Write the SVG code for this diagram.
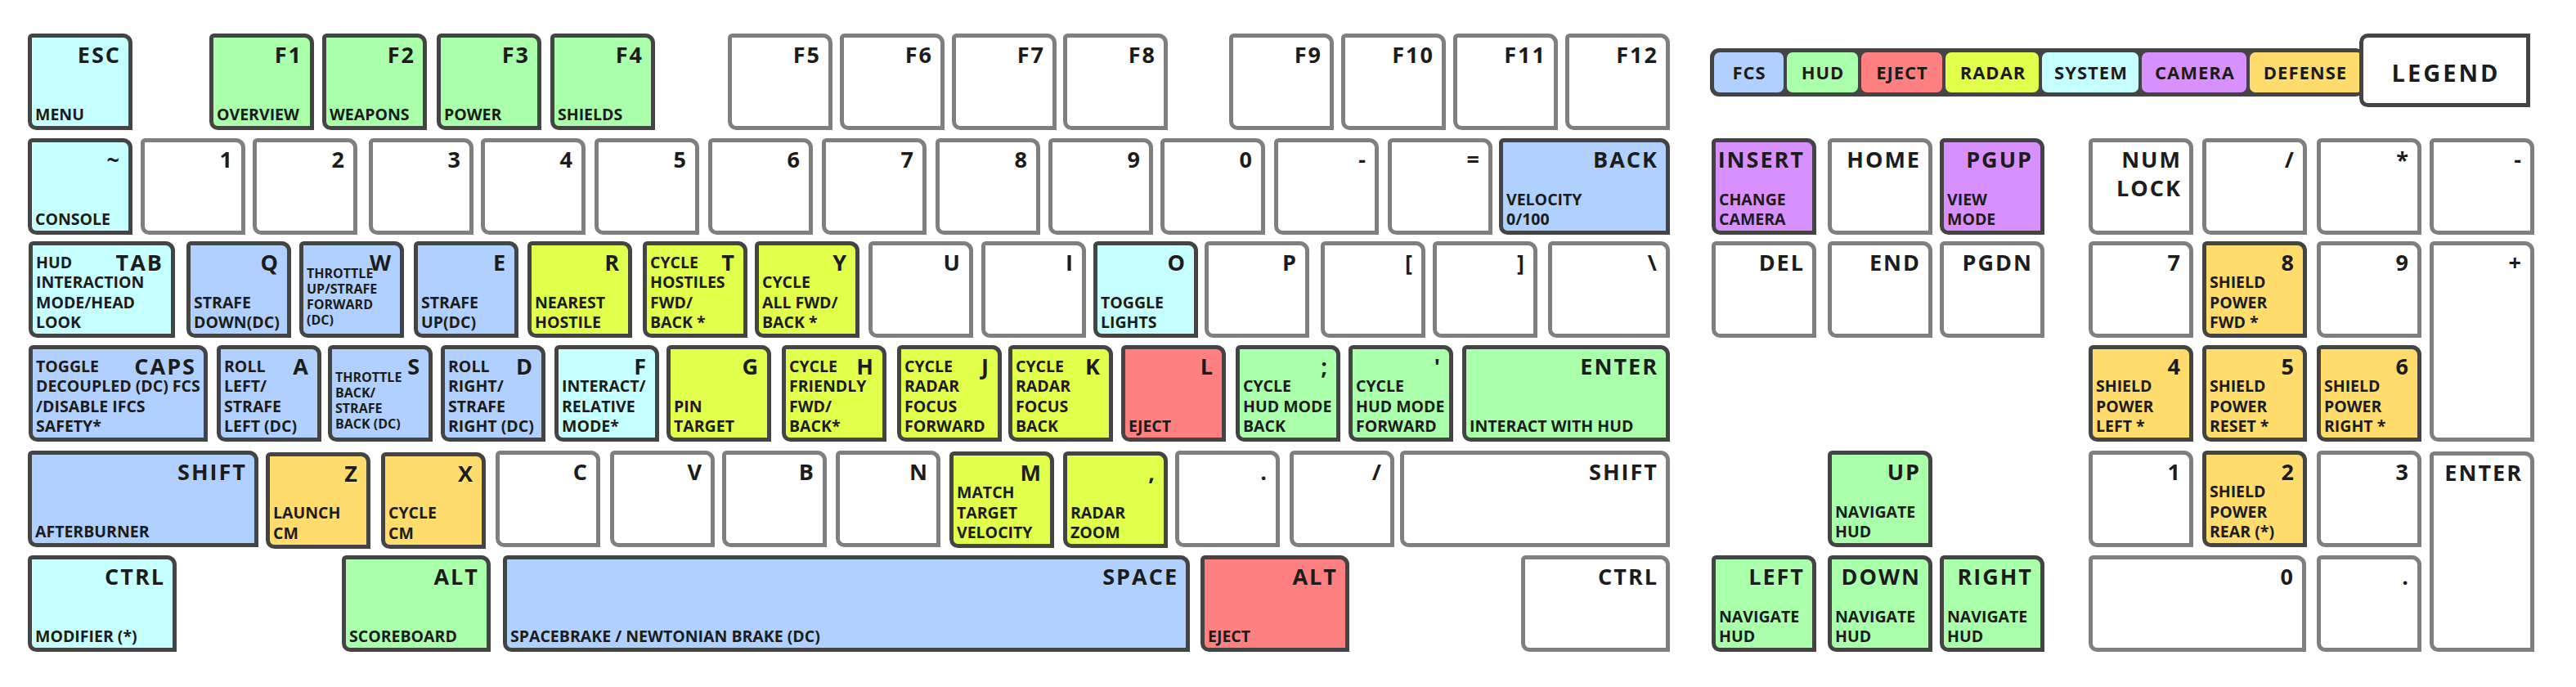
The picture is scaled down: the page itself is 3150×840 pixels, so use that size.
<svg xmlns="http://www.w3.org/2000/svg" xmlns:xlink="http://www.w3.org/1999/xlink" width="3150" height="840" viewBox="0 0 3150 840">
<style>
.w{fill:#fff;stroke:#7f7f7f;stroke-width:5}
.fcs,.hud,.ej,.rad,.sys,.cam,.def{stroke:#444;stroke-width:5}
.fcs{fill:#b0d0ff}.hud{fill:#aaffaa}.ej{fill:#ff8080}.rad{fill:#e2ff4c}.sys{fill:#c6ffff}.cam{fill:#d890ff}.def{fill:#ffdc6c}
text{font-family:"Open Sans","DejaVu Sans",sans-serif;font-weight:700;fill:#1c1c1c}
.l{font-size:27px;letter-spacing:2px;text-anchor:end}
.d{font-size:19.5px}
.s{font-size:16px}
.g{font-size:22px;letter-spacing:1px;text-anchor:middle}
.t{font-size:29px;letter-spacing:3px;text-anchor:middle}
</style>
<defs>
<path id="k" d="M5.5,2.5H116.5A9,9 0 0 1 125.5,11.5V115.5H10.5A8,8 0 0 1 2.5,107.5V5.5A3,3 0 0 1 5.5,2.5Z"/>
<path id="k149" d="M5.5,2.5H137.5A9,9 0 0 1 146.5,11.5V115.5H10.5A8,8 0 0 1 2.5,107.5V5.5A3,3 0 0 1 5.5,2.5Z"/>
<path id="k179" d="M5.5,2.5H167.5A9,9 0 0 1 176.5,11.5V115.5H10.5A8,8 0 0 1 2.5,107.5V5.5A3,3 0 0 1 5.5,2.5Z"/>
<path id="k182" d="M5.5,2.5H170.5A9,9 0 0 1 179.5,11.5V115.5H10.5A8,8 0 0 1 2.5,107.5V5.5A3,3 0 0 1 5.5,2.5Z"/>
<path id="k209" d="M5.5,2.5H197.5A9,9 0 0 1 206.5,11.5V115.5H10.5A8,8 0 0 1 2.5,107.5V5.5A3,3 0 0 1 5.5,2.5Z"/>
<path id="k219" d="M5.5,2.5H207.5A9,9 0 0 1 216.5,11.5V115.5H10.5A8,8 0 0 1 2.5,107.5V5.5A3,3 0 0 1 5.5,2.5Z"/>
<path id="k254" d="M5.5,2.5H242.5A9,9 0 0 1 251.5,11.5V115.5H10.5A8,8 0 0 1 2.5,107.5V5.5A3,3 0 0 1 5.5,2.5Z"/>
<path id="k266" d="M5.5,2.5H254.5A9,9 0 0 1 263.5,11.5V115.5H10.5A8,8 0 0 1 2.5,107.5V5.5A3,3 0 0 1 5.5,2.5Z"/>
<path id="k282" d="M5.5,2.5H270.5A9,9 0 0 1 279.5,11.5V115.5H10.5A8,8 0 0 1 2.5,107.5V5.5A3,3 0 0 1 5.5,2.5Z"/>
<path id="k330" d="M5.5,2.5H318.5A9,9 0 0 1 327.5,11.5V115.5H10.5A8,8 0 0 1 2.5,107.5V5.5A3,3 0 0 1 5.5,2.5Z"/>
<path id="k840" d="M5.5,2.5H828.5A9,9 0 0 1 837.5,11.5V115.5H10.5A8,8 0 0 1 2.5,107.5V5.5A3,3 0 0 1 5.5,2.5Z"/>
<path id="kt" d="M5.5,2.5H116.5A9,9 0 0 1 125.5,11.5V242.5H10.5A8,8 0 0 1 2.5,234.5V5.5A3,3 0 0 1 5.5,2.5Z"/>
</defs>
<rect width="3150" height="840" fill="#fff"/>

<g id="legend">
<rect x="2091" y="59" width="800" height="59" rx="11" fill="#444"/>
<rect x="2096" y="64" width="85" height="49" rx="7" fill="#b0d0ff"/>
<rect x="2185" y="64" width="87" height="49" rx="7" fill="#aaffaa"/>
<rect x="2276" y="64" width="99" height="49" rx="7" fill="#ff8080"/>
<rect x="2379" y="64" width="114" height="49" rx="7" fill="#e2ff4c"/>
<rect x="2497" y="64" width="118" height="49" rx="7" fill="#c6ffff"/>
<rect x="2619" y="64" width="128" height="49" rx="7" fill="#d890ff"/>
<rect x="2751" y="64" width="138" height="49" rx="7" fill="#ffdc6c"/>
<text class="g" x="2139" y="97">FCS</text>
<text class="g" x="2229" y="97">HUD</text>
<text class="g" x="2326" y="97">EJECT</text>
<text class="g" x="2437" y="97">RADAR</text>
<text class="g" x="2557" y="97">SYSTEM</text>
<text class="g" x="2684" y="97">CAMERA</text>
<text class="g" x="2819" y="97">DEFENSE</text>
<path d="M2895.5,43.5H3091.5V128.5H2895.5A8,8 0 0 1 2887.5,120.5V51.5A8,8 0 0 1 2895.5,43.5Z" fill="#fff" stroke="#444" stroke-width="5"/>
<text class="t" x="2991" y="100">LEGEND</text>
</g>

<!-- Row 0 -->
<g id="key-esc"><use href="#k" x="34" y="41" class="sys"/><text class="l" x="148" y="77">ESC</text><text class="d" x="43" y="147">MENU</text></g>
<g id="key-f1"><use href="#k" x="256" y="41" class="hud"/><text class="l" x="370" y="77">F1</text><text class="d" x="265" y="147">OVERVIEW</text></g>
<g id="key-f2"><use href="#k" x="394" y="41" class="hud"/><text class="l" x="508" y="77">F2</text><text class="d" x="403" y="147">WEAPONS</text></g>
<g id="key-f3"><use href="#k" x="534" y="41" class="hud"/><text class="l" x="648" y="77">F3</text><text class="d" x="543" y="147">POWER</text></g>
<g id="key-f4"><use href="#k" x="673" y="41" class="hud"/><text class="l" x="787" y="77">F4</text><text class="d" x="682" y="147">SHIELDS</text></g>
<g id="key-f5"><use href="#k" x="890" y="41" class="w"/><text class="l" x="1004" y="77">F5</text></g>
<g id="key-f6"><use href="#k" x="1027" y="41" class="w"/><text class="l" x="1141" y="77">F6</text></g>
<g id="key-f7"><use href="#k" x="1164" y="41" class="w"/><text class="l" x="1278" y="77">F7</text></g>
<g id="key-f8"><use href="#k" x="1300" y="41" class="w"/><text class="l" x="1414" y="77">F8</text></g>
<g id="key-f9"><use href="#k" x="1503" y="41" class="w"/><text class="l" x="1617" y="77">F9</text></g>
<g id="key-f10"><use href="#k" x="1640" y="41" class="w"/><text class="l" x="1754" y="77">F10</text></g>
<g id="key-f11"><use href="#k" x="1777" y="41" class="w"/><text class="l" x="1891" y="77">F11</text></g>
<g id="key-f12"><use href="#k" x="1914" y="41" class="w"/><text class="l" x="2028" y="77">F12</text></g>

<!-- Row 1 -->
<g id="key-tilde"><use href="#k" x="34" y="169" class="sys"/><text class="l" x="148" y="205">~</text><text class="d" x="43" y="275">CONSOLE</text></g>
<g id="key-1"><use href="#k" x="172" y="169" class="w"/><text class="l" x="286" y="205">1</text></g>
<g id="key-2"><use href="#k" x="309" y="169" class="w"/><text class="l" x="423" y="205">2</text></g>
<g id="key-3"><use href="#k" x="451" y="169" class="w"/><text class="l" x="565" y="205">3</text></g>
<g id="key-4"><use href="#k" x="588" y="169" class="w"/><text class="l" x="702" y="205">4</text></g>
<g id="key-5"><use href="#k" x="727" y="169" class="w"/><text class="l" x="841" y="205">5</text></g>
<g id="key-6"><use href="#k" x="866" y="169" class="w"/><text class="l" x="980" y="205">6</text></g>
<g id="key-7"><use href="#k" x="1005" y="169" class="w"/><text class="l" x="1119" y="205">7</text></g>
<g id="key-8"><use href="#k" x="1144" y="169" class="w"/><text class="l" x="1258" y="205">8</text></g>
<g id="key-9"><use href="#k" x="1282" y="169" class="w"/><text class="l" x="1396" y="205">9</text></g>
<g id="key-0"><use href="#k" x="1419" y="169" class="w"/><text class="l" x="1533" y="205">0</text></g>
<g id="key-minus"><use href="#k" x="1558" y="169" class="w"/><text class="l" x="1672" y="205">-</text></g>
<g id="key-equals"><use href="#k" x="1697" y="169" class="w"/><text class="l" x="1811" y="205">=</text></g>
<g id="key-back"><use href="#k209" x="1833" y="169" class="fcs"/><text class="l" x="2028" y="205">BACK</text><text class="d"><tspan x="1842" y="250.5">VELOCITY</tspan><tspan x="1842" y="275">0/100</tspan></text></g>

<g id="key-insert"><use href="#k" x="2093" y="169" class="cam"/><text class="l" x="2207" y="205">INSERT</text><text class="d"><tspan x="2102" y="250.5">CHANGE</tspan><tspan x="2102" y="275">CAMERA</tspan></text></g>
<g id="key-home"><use href="#k" x="2235" y="169" class="w"/><text class="l" x="2349" y="205">HOME</text></g>
<g id="key-pgup"><use href="#k" x="2372" y="169" class="cam"/><text class="l" x="2486" y="205">PGUP</text><text class="d"><tspan x="2381" y="250.5">VIEW</tspan><tspan x="2381" y="275">MODE</tspan></text></g>
<g id="key-numlock"><use href="#k" x="2554" y="169" class="w"/><text class="l"><tspan x="2668" y="205">NUM</tspan><tspan x="2668" y="240">LOCK</tspan></text></g>
<g id="key-numdiv"><use href="#k" x="2693" y="169" class="w"/><text class="l" x="2807" y="205">/</text></g>
<g id="key-nummul"><use href="#k" x="2833" y="169" class="w"/><text class="l" x="2947" y="205">*</text></g>
<g id="key-numsub"><use href="#k" x="2971" y="169" class="w"/><text class="l" x="3085" y="205">-</text></g>

<!-- Row 2 -->
<g id="key-tab"><use href="#k179" x="35" y="295" class="sys"/><text class="l" x="200" y="331">TAB</text><text class="d"><tspan x="44" y="327.5">HUD</tspan><tspan x="44" y="352">INTERACTION</tspan><tspan x="44" y="376.5">MODE/HEAD</tspan><tspan x="44" y="401">LOOK</tspan></text></g>
<g id="key-q"><use href="#k" x="228" y="295" class="fcs"/><text class="l" x="342" y="331">Q</text><text class="d"><tspan x="237" y="376.5">STRAFE</tspan><tspan x="237" y="401">DOWN(DC)</tspan></text></g>
<g id="key-w"><use href="#k" x="366" y="295" class="fcs"/><text class="l" x="480" y="331">W</text><text class="d s"><tspan x="375" y="340">THROTTLE</tspan><tspan x="375" y="359">UP/STRAFE</tspan><tspan x="375" y="378">FORWARD</tspan><tspan x="375" y="397">(DC)</tspan></text></g>
<g id="key-e"><use href="#k" x="506" y="295" class="fcs"/><text class="l" x="620" y="331">E</text><text class="d"><tspan x="515" y="376.5">STRAFE</tspan><tspan x="515" y="401">UP(DC)</tspan></text></g>
<g id="key-r"><use href="#k" x="645" y="295" class="rad"/><text class="l" x="759" y="331">R</text><text class="d"><tspan x="654" y="376.5">NEAREST</tspan><tspan x="654" y="401">HOSTILE</tspan></text></g>
<g id="key-t"><use href="#k" x="786" y="295" class="rad"/><text class="l" x="900" y="331">T</text><text class="d"><tspan x="795" y="327.5">CYCLE</tspan><tspan x="795" y="352">HOSTILES</tspan><tspan x="795" y="376.5">FWD/</tspan><tspan x="795" y="401">BACK *</tspan></text></g>
<g id="key-y"><use href="#k" x="923" y="295" class="rad"/><text class="l" x="1037" y="331">Y</text><text class="d"><tspan x="932" y="352">CYCLE</tspan><tspan x="932" y="376.5">ALL FWD/</tspan><tspan x="932" y="401">BACK *</tspan></text></g>
<g id="key-u"><use href="#k" x="1062" y="295" class="w"/><text class="l" x="1176" y="331">U</text></g>
<g id="key-i"><use href="#k" x="1200" y="295" class="w"/><text class="l" x="1314" y="331">I</text></g>
<g id="key-o"><use href="#k" x="1337" y="295" class="sys"/><text class="l" x="1451" y="331">O</text><text class="d"><tspan x="1346" y="376.5">TOGGLE</tspan><tspan x="1346" y="401">LIGHTS</tspan></text></g>
<g id="key-p"><use href="#k" x="1473" y="295" class="w"/><text class="l" x="1587" y="331">P</text></g>
<g id="key-lbracket"><use href="#k" x="1615" y="295" class="w"/><text class="l" x="1729" y="331">[</text></g>
<g id="key-rbracket"><use href="#k" x="1752" y="295" class="w"/><text class="l" x="1866" y="331">]</text></g>
<g id="key-backslash"><use href="#k149" x="1893" y="295" class="w"/><text class="l" x="2028" y="331">\</text></g>

<g id="key-del"><use href="#k" x="2093" y="295" class="w"/><text class="l" x="2207" y="331">DEL</text></g>
<g id="key-end"><use href="#k" x="2235" y="295" class="w"/><text class="l" x="2349" y="331">END</text></g>
<g id="key-pgdn"><use href="#k" x="2372" y="295" class="w"/><text class="l" x="2486" y="331">PGDN</text></g>
<g id="key-num7"><use href="#k" x="2554" y="295" class="w"/><text class="l" x="2668" y="331">7</text></g>
<g id="key-num8"><use href="#k" x="2693" y="295" class="def"/><text class="l" x="2807" y="331">8</text><text class="d"><tspan x="2702" y="352">SHIELD</tspan><tspan x="2702" y="376.5">POWER</tspan><tspan x="2702" y="401">FWD *</tspan></text></g>
<g id="key-num9"><use href="#k" x="2833" y="295" class="w"/><text class="l" x="2947" y="331">9</text></g>
<g id="key-numadd"><use href="#kt" x="2971" y="295" class="w"/><text class="l" x="3085" y="331">+</text></g>

<!-- Row 3 -->
<g id="key-caps"><use href="#k219" x="35" y="422" class="fcs"/><text class="l" x="240" y="458">CAPS</text><text class="d"><tspan x="44" y="454.5">TOGGLE</tspan><tspan x="44" y="479">DECOUPLED (DC) FCS</tspan><tspan x="44" y="503.5">/DISABLE IFCS</tspan><tspan x="44" y="528">SAFETY*</tspan></text></g>
<g id="key-a"><use href="#k" x="265" y="422" class="fcs"/><text class="l" x="379" y="458">A</text><text class="d"><tspan x="274" y="454.5">ROLL</tspan><tspan x="274" y="479">LEFT/</tspan><tspan x="274" y="503.5">STRAFE</tspan><tspan x="274" y="528">LEFT (DC)</tspan></text></g>
<g id="key-s"><use href="#k" x="401" y="422" class="fcs"/><text class="l" x="515" y="458">S</text><text class="d s"><tspan x="410" y="467">THROTTLE</tspan><tspan x="410" y="486">BACK/</tspan><tspan x="410" y="505">STRAFE</tspan><tspan x="410" y="524">BACK (DC)</tspan></text></g>
<g id="key-d"><use href="#k" x="539" y="422" class="fcs"/><text class="l" x="653" y="458">D</text><text class="d"><tspan x="548" y="454.5">ROLL</tspan><tspan x="548" y="479">RIGHT/</tspan><tspan x="548" y="503.5">STRAFE</tspan><tspan x="548" y="528">RIGHT (DC)</tspan></text></g>
<g id="key-f"><use href="#k" x="678" y="422" class="sys"/><text class="l" x="792" y="458">F</text><text class="d"><tspan x="687" y="479">INTERACT/</tspan><tspan x="687" y="503.5">RELATIVE</tspan><tspan x="687" y="528">MODE*</tspan></text></g>
<g id="key-g"><use href="#k" x="815" y="422" class="rad"/><text class="l" x="929" y="458">G</text><text class="d"><tspan x="824" y="503.5">PIN</tspan><tspan x="824" y="528">TARGET</tspan></text></g>
<g id="key-h"><use href="#k" x="956" y="422" class="rad"/><text class="l" x="1070" y="458">H</text><text class="d"><tspan x="965" y="454.5">CYCLE</tspan><tspan x="965" y="479">FRIENDLY</tspan><tspan x="965" y="503.5">FWD/</tspan><tspan x="965" y="528">BACK*</tspan></text></g>
<g id="key-j"><use href="#k" x="1097" y="422" class="rad"/><text class="l" x="1211" y="458">J</text><text class="d"><tspan x="1106" y="454.5">CYCLE</tspan><tspan x="1106" y="479">RADAR</tspan><tspan x="1106" y="503.5">FOCUS</tspan><tspan x="1106" y="528">FORWARD</tspan></text></g>
<g id="key-k"><use href="#k" x="1233" y="422" class="rad"/><text class="l" x="1347" y="458">K</text><text class="d"><tspan x="1242" y="454.5">CYCLE</tspan><tspan x="1242" y="479">RADAR</tspan><tspan x="1242" y="503.5">FOCUS</tspan><tspan x="1242" y="528">BACK</tspan></text></g>
<g id="key-l"><use href="#k" x="1371" y="422" class="ej"/><text class="l" x="1485" y="458">L</text><text class="d" x="1380" y="528">EJECT</text></g>
<g id="key-semicolon"><use href="#k" x="1511" y="422" class="hud"/><text class="l" x="1625" y="458">;</text><text class="d"><tspan x="1520" y="479">CYCLE</tspan><tspan x="1520" y="503.5">HUD MODE</tspan><tspan x="1520" y="528">BACK</tspan></text></g>
<g id="key-quote"><use href="#k" x="1649" y="422" class="hud"/><text class="l" x="1763" y="458">'</text><text class="d"><tspan x="1658" y="479">CYCLE</tspan><tspan x="1658" y="503.5">HUD MODE</tspan><tspan x="1658" y="528">FORWARD</tspan></text></g>
<g id="key-enter"><use href="#k254" x="1788" y="422" class="hud"/><text class="l" x="2028" y="458">ENTER</text><text class="d" x="1797" y="528">INTERACT WITH HUD</text></g>

<g id="key-num4"><use href="#k" x="2554" y="422" class="def"/><text class="l" x="2668" y="458">4</text><text class="d"><tspan x="2563" y="479">SHIELD</tspan><tspan x="2563" y="503.5">POWER</tspan><tspan x="2563" y="528">LEFT *</tspan></text></g>
<g id="key-num5"><use href="#k" x="2693" y="422" class="def"/><text class="l" x="2807" y="458">5</text><text class="d"><tspan x="2702" y="479">SHIELD</tspan><tspan x="2702" y="503.5">POWER</tspan><tspan x="2702" y="528">RESET *</tspan></text></g>
<g id="key-num6"><use href="#k" x="2833" y="422" class="def"/><text class="l" x="2947" y="458">6</text><text class="d"><tspan x="2842" y="479">SHIELD</tspan><tspan x="2842" y="503.5">POWER</tspan><tspan x="2842" y="528">RIGHT *</tspan></text></g>

<!-- Row 4 -->
<g id="key-lshift"><use href="#k282" x="34" y="551" class="fcs"/><text class="l" x="302" y="587">SHIFT</text><text class="d" x="43" y="657">AFTERBURNER</text></g>
<g id="key-z"><use href="#k" x="325" y="553" class="def"/><text class="l" x="439" y="589">Z</text><text class="d"><tspan x="334" y="634">LAUNCH</tspan><tspan x="334" y="658.5">CM</tspan></text></g>
<g id="key-x"><use href="#k" x="466" y="553" class="def"/><text class="l" x="580" y="589">X</text><text class="d"><tspan x="475" y="634">CYCLE</tspan><tspan x="475" y="658.5">CM</tspan></text></g>
<g id="key-c"><use href="#k" x="606" y="551" class="w"/><text class="l" x="720" y="587">C</text></g>
<g id="key-v"><use href="#k" x="746" y="551" class="w"/><text class="l" x="860" y="587">V</text></g>
<g id="key-b"><use href="#k" x="883" y="551" class="w"/><text class="l" x="997" y="587">B</text></g>
<g id="key-n"><use href="#k" x="1022" y="551" class="w"/><text class="l" x="1136" y="587">N</text></g>
<g id="key-m"><use href="#k" x="1161" y="552" class="rad"/><text class="l" x="1275" y="588">M</text><text class="d"><tspan x="1170" y="609">MATCH</tspan><tspan x="1170" y="633.5">TARGET</tspan><tspan x="1170" y="658">VELOCITY</tspan></text></g>
<g id="key-comma"><use href="#k" x="1300" y="552" class="rad"/><text class="l" x="1414" y="588">,</text><text class="d"><tspan x="1309" y="633.5">RADAR</tspan><tspan x="1309" y="658">ZOOM</tspan></text></g>
<g id="key-period"><use href="#k" x="1437" y="551" class="w"/><text class="l" x="1551" y="587">.</text></g>
<g id="key-slash"><use href="#k" x="1577" y="551" class="w"/><text class="l" x="1691" y="587">/</text></g>
<g id="key-rshift"><use href="#k330" x="1712" y="551" class="w"/><text class="l" x="2028" y="587">SHIFT</text></g>

<g id="key-up"><use href="#k" x="2235" y="551" class="hud"/><text class="l" x="2349" y="587">UP</text><text class="d"><tspan x="2244" y="632.5">NAVIGATE</tspan><tspan x="2244" y="657">HUD</tspan></text></g>
<g id="key-num1"><use href="#k" x="2554" y="551" class="w"/><text class="l" x="2668" y="587">1</text></g>
<g id="key-num2"><use href="#k" x="2693" y="551" class="def"/><text class="l" x="2807" y="587">2</text><text class="d"><tspan x="2702" y="608">SHIELD</tspan><tspan x="2702" y="632.5">POWER</tspan><tspan x="2702" y="657">REAR (*)</tspan></text></g>
<g id="key-num3"><use href="#k" x="2833" y="551" class="w"/><text class="l" x="2947" y="587">3</text></g>
<g id="key-numenter"><use href="#kt" x="2971" y="552" class="w"/><text class="l" x="3085" y="588">ENTER</text></g>

<!-- Row 5 -->
<g id="key-lctrl"><use href="#k182" x="34" y="679" class="sys"/><text class="l" x="202" y="715">CTRL</text><text class="d" x="43" y="785">MODIFIER (*)</text></g>
<g id="key-lalt"><use href="#k182" x="418" y="679" class="hud"/><text class="l" x="586" y="715">ALT</text><text class="d" x="427" y="785">SCOREBOARD</text></g>
<g id="key-space"><use href="#k840" x="615" y="679" class="fcs"/><text class="l" x="1441" y="715">SPACE</text><text class="d" x="624" y="785">SPACEBRAKE / NEWTONIAN BRAKE (DC)</text></g>
<g id="key-ralt"><use href="#k182" x="1468" y="679" class="ej"/><text class="l" x="1636" y="715">ALT</text><text class="d" x="1477" y="785">EJECT</text></g>
<g id="key-rctrl"><use href="#k182" x="1860" y="679" class="w"/><text class="l" x="2028" y="715">CTRL</text></g>

<g id="key-left"><use href="#k" x="2093" y="679" class="hud"/><text class="l" x="2207" y="715">LEFT</text><text class="d"><tspan x="2102" y="760.5">NAVIGATE</tspan><tspan x="2102" y="785">HUD</tspan></text></g>
<g id="key-down"><use href="#k" x="2235" y="679" class="hud"/><text class="l" x="2349" y="715">DOWN</text><text class="d"><tspan x="2244" y="760.5">NAVIGATE</tspan><tspan x="2244" y="785">HUD</tspan></text></g>
<g id="key-right"><use href="#k" x="2372" y="679" class="hud"/><text class="l" x="2486" y="715">RIGHT</text><text class="d"><tspan x="2381" y="760.5">NAVIGATE</tspan><tspan x="2381" y="785">HUD</tspan></text></g>
<g id="key-num0"><use href="#k266" x="2554" y="679" class="w"/><text class="l" x="2806" y="715">0</text></g>
<g id="key-numdot"><use href="#k" x="2833" y="679" class="w"/><text class="l" x="2947" y="715">.</text></g>

<g id="connectors"/>
</svg>
